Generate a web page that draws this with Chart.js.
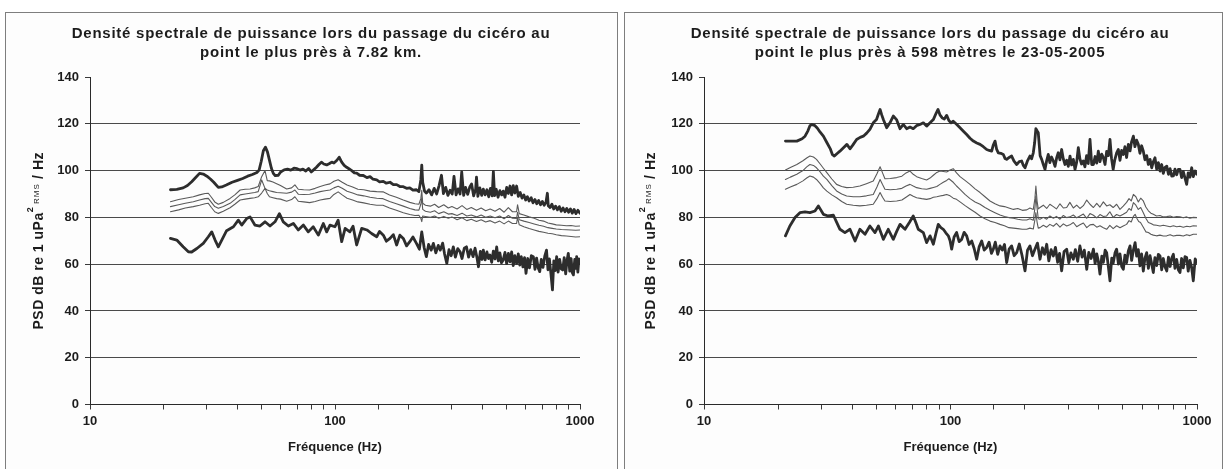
<!DOCTYPE html>
<html>
<head>
<meta charset="utf-8">
<script src="https://cdn.jsdelivr.net/npm/chart.js@4.4.1/dist/chart.umd.min.js"></script>
<style>
  html, body { margin: 0; padding: 0; background: #ffffff; width: 1225px; height: 469px; overflow: hidden; }
  .panel { position: absolute; top: 12px; height: 470px; border: 1px solid #7e7e7e; background: #fdfdfd; }
  #panelNear { left: 5px; width: 611px; }
  #panelClose { left: 624px; width: 597px; }
  .panel canvas { position: absolute; left: 0; top: 0; }
</style>
</head>
<body>
<div class="panel" id="panelNear"><canvas id="chartNear" width="611" height="456"></canvas></div>
<div class="panel" id="panelClose"><canvas id="chartClose" width="597" height="456"></canvas></div>

<script>
// ---- titles and tick labels ----
const titleNear = ['Densité spectrale de puissance lors du passage du cicéro au', 'point le plus près à 7.82 km.'];
const titleClose = ['Densité spectrale de puissance lors du passage du cicéro au', 'point le plus près à 598 mètres le 23-05-2005'];
const xAxisTitle = 'Fréquence (Hz)';
const yAxisTitleParts = ['PSD dB re 1 uPa', '2', ' RMS', ' / Hz'];
const xLabelledTicks = [10, 100, 1000];
const yTickValues = [0, 20, 40, 60, 80, 100, 120, 140];

// ---- spectra at 7.82 km : [frequency Hz, dB re 1 uPa²/Hz] ----
const psd782Top = [
  [21.3,91.8],[22.6,92.0],[24,92.6],[25,93.6],[26,95.2],[27,97.0],[28,98.8],[29,98.5],[30,97.6],[31,96.4],
  [32,95.0],[33.4,92.8],[34.5,93.0],[36,93.8],[38,95.0],[40,95.8],[42,96.6],[44,97.6],[46,98.3],[48,99.2],
  [49,100.2],[50,104],[51,108.5],[52,110],[53,108],[54,104.5],[55,101],[56,98.8],[57,97.8],[58.7,98],
  [60,99.4],[62,100.3],[64,100.6],[66,100.2],[68,101],[70,100.8],[72,100.2],[74,100.6],[76,99.8],[78,100.9],
  [80,99.4],[82,100.4],[84,101.4],[86,102.6],[88,103.6],[90,102.8],[92.5,102.4],[95,103.0],[97,103.6],[99,103.2],
  [101.6,104.3],[104,105.7],[106.5,103.6],[109,102.2],[111.6,101.4],[114,100.8],[117,100],[120,99.0],[122.6,98.9],[126,98.0],
  [130.5,97.9],[135,97.0],[139,97.4],[143,96.3],[148,96.0],[152,95.2],[157.5,95.4],[162,94.6],[167.7,95.0],[173,94.0],
  [178.5,94.0],[184,93.2],[190,93.1],[196,92.4],[202,92.6],[208,91.6],[215,91.8],[220,91.0],[224,96],[226,102.3],
  [228,95],[232,91.2],[236,90.4],[242,91.8],[248,89.6],[254,92.4],[260,90.0],[266,93.6],[272,98.0],[277,90.2],
  [283,92.8],[289,89.4],[295,91.6],[301,90.0],[306,97.5],[312,89.6],[318,92.2],[324,90.0],[329,99.4],[335,89.4],
  [341,92.8],[348,89.8],[355,93.0],[361,94.3],[368,89.2],[375,92.0],[378,97.2],[383,89.0],[390,92.6],[397,89.4],
  [403,92.1],[410,89.6],[417,91.8],[424,88.8],[431,92.4],[438,89.2],[443,99.6],[448,89.3],[455,92.0],[463,88.6],
  [471,91.4],[479,89.6],[486,91.2],[494,88.6],[502,92.8],[510,90.2],[518,93.4],[526,89.6],[534,93.6],[542,90.4],
  [551,93.4],[560,89.0],[570,90.6],[580,88.2],[590,89.6],[600,87.4],[610,88.8],[620,87.0],[632,88.4],[643,86.2],
  [655,87.6],[666,85.8],[678,87.2],[690,85.4],[702,86.8],[714,85.2],[726,86.4],[736,90.3],[742,85.0],[755,84.2],
  [768,85.6],[781,83.6],[795,84.8],[809,83.2],[823,84.6],[838,82.6],[853,84.0],[868,82.4],[883,83.8],[898,82.2],
  [914,83.6],[930,81.8],[946,83.4],[963,81.6],[980,83.0],[1000,81.8]
];
const psd782Mid1 = [
  [21.3,86.7],[23,87.6],[24.5,88.2],[26.4,88.8],[28,89.6],[29.5,90.2],[30.4,90.3],[31.3,88.6],[32.3,86.6],[33.4,85.6],
  [35,86.4],[37.3,88.1],[39,89.6],[41,91.7],[43,92.0],[45,92.1],[47,92.6],[48.6,93.2],[50.2,97.4],[51.8,100],
  [52.9,95.7],[54,95.6],[55.8,95.1],[57.8,94.4],[59.9,93.6],[63.5,92.1],[66.5,92.6],[68.6,93.9],[70.8,92],[74.5,91.8],
  [78.8,91.7],[83,92.4],[87,93.2],[91,93.8],[95.4,94.3],[99,95.4],[103,96.1],[107,95.0],[112,93.8],[118,93.0],
  [124,92.0],[131,91.8],[139,91.2],[148,91.0],[157,90.9],[167,89.6],[178,88.6],[190,87.4],[202,86.4],[212,85.8],
  [220,85.6],[224,88],[226,91.6],[228,86],[234,85.2],[245,84.8],[255,85.6],[265,84.2],[278,85.4],[290,84.0],
  [300,84.6],[315,83.6],[330,85.0],[345,83.4],[360,84.2],[378,83.0],[395,84.0],[412,82.8],[430,83.6],[450,82.6],
  [470,83.8],[490,82.2],[510,84.2],[530,82.4],[551,82.4],[556,85.4],[565,81.6],[590,81.0],[620,80.2],[650,79.6],
  [680,78.8],[710,78.4],[740,77.6],[770,77.2],[800,76.8],[840,76.6],[880,76.4],[920,76.5],[960,76.2],[1000,76.3]
];
const psd782Mid2 = [
  [21.3,84.6],[23,85.4],[24.5,86.0],[26.4,86.7],[28,87.4],[29.5,88.0],[30.4,88.1],[31.3,86.4],[32.3,84.6],[33.4,83.9],
  [35,84.6],[37.3,86],[39,87.6],[41,89.6],[43,90.0],[45,90.3],[47,90.6],[48.6,91],[50.2,96],[51.8,92.4],
  [52.9,91.7],[54,91.4],[55.8,91],[57.8,90.6],[59.9,90.5],[63.5,90.3],[66.5,90.8],[68.6,91.7],[70.8,89.9],[74.5,89.8],
  [78.8,89.9],[83,90.4],[87,91],[91,91.4],[95.4,91.7],[99,92.6],[103,93.3],[107,92.4],[112,91.2],[118,90.4],
  [124,89.6],[131,89.2],[139,88.6],[148,88.2],[157,88.0],[167,86.8],[178,85.8],[190,84.8],[202,83.8],[212,83.2],
  [220,83.1],[224,85.6],[226,88.4],[228,83.4],[234,82.6],[245,82.2],[255,82.8],[265,81.6],[278,82.4],[290,81.4],
  [300,81.6],[315,80.8],[330,81.8],[345,80.6],[360,81.0],[378,80.2],[395,81.0],[412,80.0],[430,80.6],[450,79.8],
  [470,80.6],[490,79.4],[510,80.8],[530,79.6],[551,79.5],[556,82.2],[565,79.0],[590,78.4],[620,77.8],[650,77.2],
  [680,76.6],[710,76.2],[740,75.6],[770,75.3],[800,75.0],[840,74.8],[880,74.7],[920,74.6],[960,74.5],[1000,74.6]
];
const psd782Mid3 = [
  [21.3,82.4],[23,83.2],[24.5,84.0],[26.4,84.6],[28,85.2],[29.5,85.8],[30.4,86],[31.3,84.2],[32.3,82.4],[33.4,81.7],
  [35,82.6],[37.3,84.1],[39,85.6],[41,87.4],[43,87.8],[45,88.1],[47,88.4],[48.6,88.8],[50.2,90.4],[51.8,92.4],
  [52.9,90.2],[54,88.8],[55.8,88.4],[57.8,88.0],[59.9,87.8],[63.5,86.9],[66.5,87.6],[68.6,88.8],[70.8,86.9],[74.5,86.6],
  [78.8,86.3],[83,86.8],[87,87.4],[91,87.8],[95.4,88.1],[99,89.8],[103,90.9],[107,89.6],[112,88.2],[118,87.4],
  [124,86.6],[131,86.2],[139,85.6],[148,85.2],[157,85.2],[167,84.0],[178,83.0],[190,82.0],[202,81.2],[212,80.8],
  [220,80.9],[224,79.6],[226,78.2],[228,80.6],[234,80.4],[245,80.0],[255,80.6],[265,79.6],[278,80.4],[290,79.6],
  [300,80.2],[315,79.0],[330,79.8],[345,78.6],[360,79.2],[378,78.2],[395,79.0],[412,78.0],[430,78.6],[450,77.6],
  [470,78.4],[490,77.2],[510,78.4],[530,77.4],[551,77.4],[556,80.0],[565,76.8],[590,76.0],[620,75.2],[650,74.6],
  [680,74.0],[710,73.6],[740,73.2],[770,73.0],[800,72.6],[840,72.2],[880,72.0],[920,71.8],[960,71.6],[1000,71.7]
];
const psd782Bottom = [
  [21.3,71],[22.6,70.3],[24,67.4],[25.2,65.3],[26,65.2],[27.3,66.7],[29,68.9],[30.4,71.7],[31.4,73.8],[32.4,70.3],
  [33.4,67.4],[34.5,70.3],[36.1,74.3],[38.5,76],[40.3,78.8],[41.6,76.7],[43.6,79.5],[45,80.2],[47.1,76.7],[49.4,76.3],
  [51.8,78.1],[54.3,76.3],[56.9,78.1],[59.3,81.6],[61.5,78.1],[64.5,76.3],[67.6,77.4],[70.8,74.6],[74.3,76.7],[77.8,73.8],
  [81.5,76],[85.5,72.4],[89.6,77.4],[92.5,73.8],[95.4,76.7],[100,76],[103,78.8],[106.5,69.6],[110,75.3],[115,73.8],
  [118.5,76.2],[122.6,68.2],[128.5,75.3],[135,74.6],[141,73.1],[148,71.7],[152,74.0],[157.5,72.4],[162,69.8],[167.7,71],
  [173,72.6],[178.5,68.2],[184,72.4],[190,71],[196,67.8],[202,69.6],[208,71.6],[215,68.9],[221,66.4],[226,73.8],
  [231,67.2],[236,63.2],[241,68.4],[247,66.0],[252,68.9],[258,64.8],[264,68.0],[269,66],[275,69.0],[280,64.4],
  [286,60.3],[292,66.2],[298,63.6],[304,67.4],[310,63.0],[317,66.6],[324,65.3],[330,62.4],[337,66.8],[344,67.4],
  [351,63.0],[358,66.2],[366,63.2],[373,66.8],[380,62.6],[385,58.9],[392,65.4],[398,62.0],[403,66],[410,61.8],
  [417,65.2],[423,62.4],[429,63.9],[436,60.8],[443,65.6],[450,62.2],[457,67.4],[464,61.4],[471,64.8],[478,60.6],
  [486,61.8],[494,65.0],[502,60.2],[510,64.6],[518,61.0],[526,65.2],[534,59.4],[542,63.6],[551,60.3],[560,64.4],
  [568,59.6],[576,63.2],[585,58.8],[594,62.8],[602,56.1],[612,62.4],[622,58.4],[633,63.6],[645,63.2],[655,57.8],
  [665,62.6],[675,58.4],[685,56.8],[695,62.0],[706,58.6],[718,63.4],[730,66],[740,57.6],[750,62.2],[761,55.8],
  [772,49],[782,61.4],[792,57.2],[803,63.2],[814,56.6],[826,62.0],[838,58.0],[850,57.5],[862,62.8],[874,55.8],
  [885,61.6],[896,64.6],[908,57.0],[920,62.4],[930,56.4],[940,55.4],[952,62.0],[963,58.2],[969,63.2],[980,56.6],
  [990,62.2],[1000,60.3]
];

// ---- spectra at 598 m : [frequency Hz, dB re 1 uPa²/Hz] ----
const psd598Top = [
  [21.4,112.6],[22.5,112.6],[23.8,112.6],[25,113.6],[25.7,114.7],[26.4,117],[26.9,119.2],[27.4,119.7],[28.2,119.2],[28.8,118.2],
  [29.6,116.4],[30.5,114.7],[31.5,112.0],[32.5,109.4],[33.2,106.8],[33.8,106.2],[34.6,107.2],[35.6,108.3],[36.8,109.8],[38,111.2],
  [39.1,109.3],[40.2,111],[41.6,113.3],[43,114.2],[44.3,114.7],[45.7,116.0],[47.1,117.6],[48.6,120.4],[50.1,121.8],[51,124.2],
  [51.8,126.1],[52.6,123.8],[53.4,121.8],[55.1,118.3],[56.8,120.4],[58.6,123.3],[60.4,121.8],[62.4,117.9],[64.4,119.7],[66.4,117.9],
  [68.5,118.6],[70.6,117.9],[72.8,119.2],[75.2,119.7],[77.6,120.4],[80,119],[82.6,120.4],[85.2,121.8],[87.5,124.6],[89,126.1],
  [90.6,123.8],[92.4,122.6],[94.4,122],[96.5,123.6],[98.5,121.4],[100.5,120.4],[102.6,121.1],[105.8,119.8],[109.3,118.3],[112.8,116.8],
  [116.3,115.4],[120,113.8],[123.8,112.6],[127.8,111.8],[131.8,111.2],[135.9,110.2],[140.2,109],[143.5,108.6],[146.9,108.3],[149,110.8],
  [151.6,112.6],[153.8,109.2],[156.3,107.6],[160,107.4],[163.8,106.9],[166.4,105.2],[169,104.8],[173,105.6],[177,106.2],[181,104.0],
  [185.6,102.6],[190,103.8],[194.4,104.1],[197.5,102.2],[200.6,101.2],[205,104.0],[210,106.2],[213.3,105.0],[216.7,107.6],[219.5,112],
  [222,117.9],[224.5,117.0],[227,116.2],[231,106.4],[234.4,104.8],[238,102.6],[241.7,100.5],[245.5,104.2],[249.3,106.9],[253,103.4],
  [257,105.8],[261.4,104.1],[265.5,101.8],[269.5,105.4],[273.6,107.6],[278,104.6],[282.4,109],[286.8,105.0],[291.4,102.6],[296,104.4],
  [300.6,101.8],[305.4,106.2],[310,102.4],[315,104.8],[320,100.5],[325,103.6],[330,109.8],[335,105.0],[340,102.8],[345.6,104.1],
  [351,101.6],[356.5,106.4],[362,103.0],[368,113.3],[374,102.6],[380,102.6],[386,106.0],[392,103.2],[397.8,108.3],[404,103.8],
  [410.5,107.0],[417,105.5],[423.5,102.6],[430,108.2],[437,106.4],[443.6,113.3],[450,105.2],[457,100.5],[464,104.6],[472,107.6],
  [479.6,109],[487,104.4],[494.5,108.6],[502.5,106.9],[510,110.2],[518,105.6],[526.5,111.2],[535,108.4],[543,112.4],[552,114.7],
  [560,110.2],[569,113.0],[578,111.2],[587,107.4],[596,110.6],[605.6,108.3],[615,104.6],[625,106.4],[634.7,102.6],[645,104.8],
  [655,101.2],[665,103.8],[675.4,105.5],[686,100.6],[697,103.4],[708,99.8],[719,102.6],[730,98.8],[742,101.4],[754,101.9],
  [766,98.4],[778,100.8],[790,97.6],[802,97.7],[814,100.6],[827,98.2],[840,100.5],[853,100.5],[866,97.0],[880,99.6],
  [894,96.8],[908,94.1],[921,99.0],[936,97.2],[951.5,101.2],[966,97.4],[983,99.8],[1000,98.4]
];
const psd598Mid1 = [
  [21.4,100.2],[22.4,101.3],[23.8,102.6],[25.2,104.2],[26.1,105.4],[26.9,106.2],[27.8,105.8],[28.6,104.8],[29.6,102.8],[30.5,101.0],
  [31.5,99.1],[33,96.4],[34.5,94.1],[36.2,93.2],[37.9,92.7],[40.3,92.9],[42.9,93.4],[45.6,94.4],[48.6,95.5],[50.3,98.6],
  [51.8,101.6],[53,99.0],[54.2,96.5],[57,96.6],[60.5,97],[63.5,97.6],[66,99.0],[68.5,99.8],[70.6,98.4],[72.9,97.4],
  [76.4,96.6],[80,96],[82.6,96.8],[85.2,98],[88,99.2],[90.6,99.8],[93.5,99.6],[96.5,99.4],[99.6,100.2],[102.6,100.8],
  [105.8,99.0],[109.3,97.4],[114.5,95.8],[120,94.1],[125.8,92.2],[131.8,90.6],[138,88.8],[144.6,87],[151.5,85.8],[158.8,84.9],
  [165.6,84.6],[172.5,84.0],[180,83.4],[187.5,83.8],[195.5,83.0],[203.8,83.2],[210,84.0],[216.7,83.4],[220,88],[222,93.4],
  [224.5,87],[227,83.6],[230.7,84.2],[238,85.2],[245.6,83.8],[253,85.6],[261.4,84.6],[269,83.6],[278,85.8],[287,84.0],
  [296,84.2],[305,86.4],[315,84.0],[325,85.2],[335,83.8],[346,85.0],[357,87.4],[368,85.6],[380,84.2],[392,86.0],
  [404,84.4],[417,86.6],[430,84.9],[443,85.4],[457,84.2],[472,85.6],[487,83.4],[502,84.8],[518,86.4],[530,88.0],
  [541,87.0],[552,89.8],[565,88.8],[578,86.6],[591,88.2],[605.6,87],[620,84.4],[635,82.8],[650,81.8],[665,81.3],
  [685,80.6],[708,80.8],[730,80.2],[754,80.3],[778,80.6],[802,80.0],[827,80.4],[853,80.2],[880,79.8],[908,80.2],
  [936,79.6],[966,80.0],[1000,79.9]
];
const psd598Mid2 = [
  [21.4,96.2],[22.4,97.2],[23.8,98.4],[25.2,100.0],[26.1,101.6],[26.9,102.6],[27.8,102.2],[28.6,101.2],[29.6,99.4],[30.5,97.6],
  [31.5,96.2],[33,93.6],[34.5,91.3],[36.2,90.0],[37.9,89.1],[40.3,88.8],[42.9,88.8],[45.6,89.2],[48.6,89.8],[50.3,93.0],
  [51.8,96.2],[53,94.0],[54.2,92],[57,91.8],[60.5,92],[63.5,92.4],[66,93.4],[68.5,94.1],[70.6,93.4],[72.9,92.7],
  [76.4,92.2],[80,92],[82.6,92.4],[85.2,92.8],[88,93.2],[90.6,94.1],[93.5,95.0],[96.5,95.8],[98.5,96.5],[102.6,95.0],
  [105.8,93.4],[109.3,92.0],[114.5,89.8],[120,88.0],[125.8,86.6],[131.8,85.6],[138,84.2],[144.6,83.0],[151.5,82.0],[158.8,81.0],
  [165.6,80.4],[172.5,79.9],[180,79.6],[187.5,79.2],[195.5,78.9],[203.8,78.9],[210,79.4],[216.7,78.8],[220,84],[222,89.1],
  [224.5,84],[227,79.4],[230.7,79.2],[238,80.0],[245.6,79.2],[253,80.6],[261.4,79.6],[269,80.4],[278,79.2],[287,80.8],
  [296,79.9],[305,80.2],[315,81.0],[325,79.8],[335,80.6],[346,81.4],[357,79.6],[368,81.6],[380,80.9],[392,79.8],
  [404,81.2],[417,80.4],[430,80.6],[443,82.4],[457,80.0],[472,81.2],[487,80.6],[502,81.3],[518,82.2],[530,83.8],
  [541,83.0],[552,86.3],[565,85.2],[578,83.4],[591,84.2],[605.6,82.0],[620,79.6],[635,77.8],[650,77.4],[665,76.8],
  [685,76.6],[708,76.3],[730,76.6],[754,76.3],[778,76.0],[802,76.4],[827,76.0],[853,76.2],[880,75.8],[908,76.2],
  [936,76.0],[966,76.4],[1000,76.3]
];
const psd598Mid3 = [
  [21.4,92.0],[22.4,93.0],[23.8,94.1],[25.2,95.6],[26.1,96.8],[26.9,97.7],[27.8,97.2],[28.6,96.2],[29.6,94.4],[30.5,92.6],
  [31.5,91.2],[33,89.6],[34.5,88.4],[36.2,86.8],[37.9,85.6],[40.3,85.2],[42.9,84.9],[45.6,85.2],[48.6,85.6],[50.3,88.0],
  [51.8,90.6],[53,88.6],[54.2,87],[57,86.8],[60.5,87],[63.5,87.4],[66,88.6],[68.5,89.8],[70.6,89.0],[72.9,88.4],
  [76.4,88.0],[80,87.7],[82.6,88.0],[85.2,88.6],[88,88.8],[90.6,89.1],[93.5,89.4],[96.5,89.8],[99.6,89.2],[102.6,88.2],
  [105.8,87.7],[110,86.4],[115,84.9],[120,83.6],[125.8,82.2],[131.8,80.6],[138,79.4],[144.6,78.4],[151.5,77.8],[158.8,77.0],
  [165.6,76.4],[172.5,75.6],[180,75.4],[187.5,75.2],[195.5,74.9],[203.8,74.9],[210,75.4],[216.7,75.0],[220,79],[222,82],
  [224.5,78],[227,75.4],[230.7,75.6],[238,76.6],[245.6,75.8],[253,77.0],[261.4,76.2],[269,77.4],[278,75.8],[287,77.2],
  [296,76.3],[305,76.8],[315,77.8],[325,76.0],[335,76.8],[346,77.6],[357,75.6],[368,76.8],[380,77.0],[392,75.8],
  [404,76.4],[417,75.6],[430,74.9],[443,76.6],[457,75.2],[472,76.4],[487,75.6],[502,76.3],[518,77.0],[530,78.6],
  [541,78.0],[552,80.4],[561,81.3],[570,79.6],[580,78.2],[590,77.8],[605.6,75.8],[620,73.8],[635,73.5],[650,72.8],
  [665,72.4],[685,72.1],[708,72.4],[730,72.0],[754,72.1],[778,72.6],[802,72.0],[827,72.3],[853,72.3],[880,72.0],
  [908,72.6],[936,72.2],[966,72.8],[1000,72.8]
];
const psd598Bottom = [
  [21.4,72.1],[22.3,76.3],[23.4,79.9],[24.5,82],[25.7,82.3],[26.9,82],[28.2,82.7],[29.1,84.9],[30.5,81.3],[31.9,80.6],
  [33.5,80.9],[34.5,78.0],[35.6,74.9],[37.3,73.5],[39.1,74.9],[41,69.9],[42.9,74.9],[45,72.8],[47.1,76.3],[49.4,73.5],
  [51,76.3],[53.4,70.6],[55.9,74.9],[58.6,70.6],[60.5,74.0],[62.4,77],[65.4,74.9],[68.1,77.8],[70.6,80.6],[72.2,78.0],
  [74,74.9],[77.6,73.5],[80,69.2],[82.6,72.1],[85.2,68.5],[87.2,73.0],[89.2,77],[91.4,75.6],[93.5,74.9],[95.7,73.4],
  [98,72.1],[99.6,70.0],[101.1,66.4],[103.4,71.6],[105.9,73.5],[108.4,69.6],[111,70.6],[113.6,73.6],[116.3,72.1],[119,68.4],
  [121.9,69.9],[124.8,66.6],[127.7,62.1],[130.7,67.4],[133.8,69.9],[137,66.0],[140.2,67.1],[143.4,69.4],[146.6,64.6],[149.2,66.4],
  [152,69.4],[155.4,64.2],[158.8,67.8],[162.3,66.0],[165.6,68.4],[169,60.7],[172.9,66.4],[177,67.8],[181.2,63.6],[185.6,64.9],
  [190.2,68.6],[195,63.8],[200.6,57.1],[205.3,66.0],[210,67.8],[215,63.6],[220,66.4],[225.3,69.0],[230.7,62.1],[236,67.0],
  [240.8,64.2],[245.6,68.5],[250.5,61.4],[256,66.2],[261.4,63.5],[266.5,67.2],[272,60.8],[277,64.6],[282.4,57.1],[289,65.4],
  [296,66.4],[302,60.6],[308,64.8],[315,62.1],[321,66.2],[328,61.2],[335,67.8],[342,63.0],[349,66.0],[357,57.8],
  [364,65.0],[372,62.4],[380,66.4],[386,60.2],[392,64.4],[398,61.2],[404,55.7],[411,63.4],[417,60.8],[424,66.0],
  [430,64.9],[437,58.8],[443.6,52.9],[451,62.6],[457,60.4],[465,64.8],[472,66.4],[480,60.0],[487,64.4],[495,59.0],
  [502.5,57.8],[510,63.8],[518,60.6],[526.5,65.6],[535,67.8],[543,61.6],[552,66.0],[561,69.2],[569,63.4],[578,66.2],
  [587,59.3],[596,64.4],[605.6,57.0],[615,62.6],[625,64.9],[635,58.2],[645,63.6],[655,60.0],[665,56.4],[675,62.8],
  [686,59.4],[697,64.2],[708,63.5],[719,57.6],[730,62.4],[742,58.8],[754,57.1],[766,63.0],[778,59.0],[790,62.6],
  [802,64.2],[814,58.2],[827,62.0],[840,57.6],[853,56.4],[866,62.4],[880,58.4],[894,63.2],[908,62.8],[921,57.0],
  [936,61.6],[951,58.6],[966,52.9],[983,62.2],[1000,60.7]
];

// ---- shared styling ----
const FONT = '"Liberation Sans", Arial, Helvetica, sans-serif';
const INK = '#1c1c1c';
const THICK = { color: '#2d2d2d', width: 2.8 };
const THIN = { color: '#5a5a5a', width: 1.1 };

// Two-line heading, slightly letter-spaced, centred on the panel
const panelHeading = {
  id: 'panelHeading',
  afterDraw(chart, args, opts) {
    const ctx = chart.ctx;
    ctx.save();
    ctx.fillStyle = INK;
    ctx.font = 'bold 15px ' + FONT;
    if ('letterSpacing' in ctx) ctx.letterSpacing = '0.75px';
    ctx.textAlign = 'center';
    ctx.textBaseline = 'middle';
    opts.lines.forEach((line, i) => ctx.fillText(line, opts.centerX, opts.firstLineY + i * opts.lineGap));
    ctx.restore();
  }
};

// Rotated y-axis title with the superscript "2" and the small "RMS"
const psdAxisTitle = {
  id: 'psdAxisTitle',
  afterDraw(chart, args, opts) {
    const ctx = chart.ctx;
    const area = chart.chartArea;
    const styles = [
      { font: 'bold 14px ' + FONT, rise: 0, spacing: '0.5px' },
      { font: 'bold 9px ' + FONT, rise: 10, spacing: '0px' },
      { font: '8px ' + FONT, rise: 4, spacing: '1px' },
      { font: 'bold 14px ' + FONT, rise: 0, spacing: '0.5px' }
    ];
    const hasSpacing = 'letterSpacing' in ctx;
    ctx.save();
    let total = 0;
    const widths = yAxisTitleParts.map((t, i) => {
      ctx.font = styles[i].font;
      if (hasSpacing) ctx.letterSpacing = styles[i].spacing;
      const w = ctx.measureText(t).width;
      total += w;
      return w;
    });
    ctx.translate(opts.baseline, (area.top + area.bottom) / 2);
    ctx.rotate(-Math.PI / 2);
    ctx.fillStyle = INK;
    ctx.textAlign = 'left';
    ctx.textBaseline = 'alphabetic';
    let x = -total / 2;
    yAxisTitleParts.forEach((t, i) => {
      ctx.font = styles[i].font;
      if (hasSpacing) ctx.letterSpacing = styles[i].spacing;
      ctx.fillText(t, x, -styles[i].rise);
      x += widths[i];
    });
    ctx.restore();
  }
};

function toDataset(points, style) {
  return {
    data: points.map(([f, db]) => ({ x: f, y: db })),
    borderColor: style.color,
    borderWidth: style.width,
    pointRadius: 0,
    tension: 0,
    fill: false,
    borderJoinStyle: 'round',
    borderCapStyle: 'round'
  };
}

function buildChart(canvasId, titleLines, thickSeries, thinSeries, layout) {
  const datasets = [
    ...thickSeries.map(s => toDataset(s, THICK)),
    ...thinSeries.map(s => toDataset(s, THIN))
  ];
  return new Chart(document.getElementById(canvasId), {
    type: 'line',
    data: { datasets },
    options: {
      responsive: false,
      animation: false,
      events: [],
      layout: { padding: { top: 64, left: 0, right: 0, bottom: 0 } },
      plugins: {
        legend: { display: false },
        tooltip: { enabled: false },
        title: { display: false },
        panelHeading: { lines: titleLines, centerX: layout.headingX, firstLineY: 20.8, lineGap: 19 },
        psdAxisTitle: { baseline: layout.yTitleBaseline }
      },
      scales: {
        x: {
          type: 'logarithmic',
          min: 10,
          max: 1000,
          afterFit: s => { s.height = 64.5; },
          afterBuildTicks: s => {
            s.ticks = s.ticks.filter(t => t.value >= 10 && t.value <= 1000);
          },
          ticks: {
            autoSkip: false,
            maxRotation: 0,
            color: INK,
            padding: 4,
            font: { family: FONT, size: 13, weight: 'bold' },
            callback: v => (xLabelledTicks.includes(v) ? String(v) : '')
          },
          grid: { drawOnChartArea: false, drawTicks: true, tickLength: 5, color: '#3a3a3a', tickColor: '#3a3a3a' },
          border: { display: true, color: '#2a2a2a', width: 1 },
          title: {
            display: true,
            text: xAxisTitle,
            color: INK,
            font: { family: FONT, size: 13, weight: 'bold', lineHeight: 1.2 },
            padding: { top: 0, bottom: 14 }
          }
        },
        y: {
          type: 'linear',
          min: 0,
          max: 140,
          afterFit: s => { s.width = layout.yAxisWidth; },
          afterBuildTicks: s => { s.ticks = yTickValues.map(v => ({ value: v })); },
          ticks: {
            color: INK,
            padding: 6,
            font: { family: FONT, size: 13, weight: 'bold' }
          },
          grid: {
            drawTicks: true,
            tickLength: 5,
            color: c => (c.tick && (c.tick.value === 140 || c.tick.value === 0) ? 'rgba(0,0,0,0)' : '#4a4a4a'),
            tickColor: '#3a3a3a',
            lineWidth: 1
          },
          border: { display: true, color: '#2a2a2a', width: 1 }
        },
        spacer: {
          type: 'linear',
          position: 'right',
          min: 0,
          max: 1,
          display: true,
          afterFit: s => { s.width = layout.rightGap; },
          ticks: { display: false },
          grid: { display: false, drawTicks: false },
          border: { display: false }
        }
      }
    },
    plugins: [panelHeading, psdAxisTitle]
  });
}

buildChart('chartNear', titleNear,
  [psd782Top, psd782Bottom],
  [psd782Mid1, psd782Mid2, psd782Mid3],
  { yAxisWidth: 84, rightGap: 37, yTitleBaseline: 36.7, headingX: 305 });

buildChart('chartClose', titleClose,
  [psd598Top, psd598Bottom],
  [psd598Mid1, psd598Mid2, psd598Mid3],
  { yAxisWidth: 79, rightGap: 25, yTitleBaseline: 30.3, headingX: 305 });
</script>
</body>
</html>
